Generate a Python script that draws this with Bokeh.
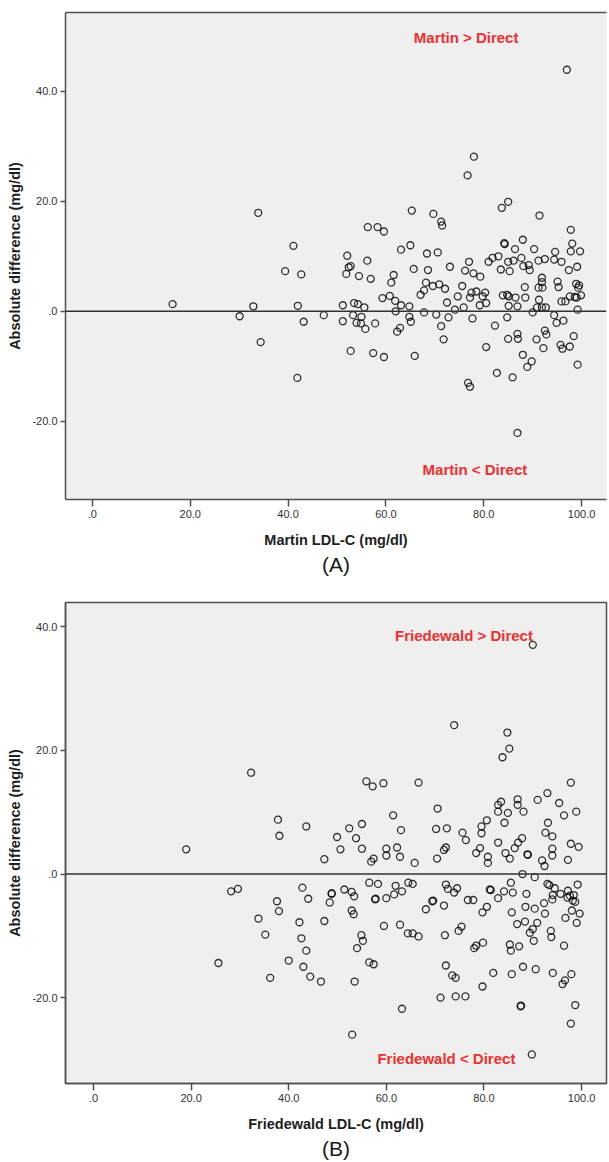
from bokeh.plotting import figure
from bokeh.models import Span, Label, Title, FixedTicker, Range1d, LinearAxis
from bokeh.layouts import column
from bokeh.embed import file_html
from bokeh.resources import INLINE

# ---------------- data ----------------
martin_ldl = [16.4, 30.1, 32.9, 33.9, 34.4, 39.4, 41.1, 42.0, 41.9, 42.7, 43.2, 47.3,
              51.2, 51.2, 52.1, 52.4, 52.8, 51.9, 54.5, 52.8, 53.5, 54.3, 55.6, 53.3,
              55.0, 54.0, 54.9, 55.8, 56.2, 56.9, 56.3, 58.3, 59.6, 57.8, 57.4, 59.6,
              59.3, 60.8, 61.9, 63.1, 62.0, 61.1, 61.6, 63.1, 65.0, 65.3, 65.7, 64.8,
              64.8, 65.1, 62.9, 62.3, 65.9, 76.7, 85.0, 83.7, 69.7, 71.3, 71.5, 91.4,
              97.8, 98.1, 97.8, 99.7, 68.4, 70.6, 68.6, 73.1, 77.0, 76.2, 77.9, 79.3,
              81.0, 81.8, 83.0, 84.2, 84.3, 86.4, 88.0, 90.3, 94.6, 83.5, 85.0, 85.3,
              86.1, 87.7, 88.1, 89.2, 89.4, 91.2, 92.5, 94.4, 95.9, 97.4, 99.1, 91.9,
              91.9, 92.0, 91.2, 95.1, 95.3, 98.9, 99.5, 99.3, 99.9, 99.0, 98.6, 97.6,
              95.9, 96.7, 99.2, 67.1, 67.8, 68.2, 69.6, 70.9, 72.1, 67.8, 70.3, 71.3,
              71.8, 72.8, 72.5, 74.1, 74.7, 75.6, 75.9, 77.2, 77.5, 78.5, 79.2, 79.8,
              80.3, 80.5, 77.7, 82.3, 80.5, 83.9, 84.8, 85.1, 86.5, 88.5, 88.4, 85.1,
              86.9, 84.8, 86.9, 87.0, 85.0, 88.0, 89.8, 88.9, 82.7, 85.9, 76.8, 77.2,
              90.0, 90.9, 91.3, 91.9, 92.7, 94.4, 94.9, 96.3, 90.8, 92.5, 92.8, 92.2,
              95.7, 96.1, 97.6, 98.4, 99.2, 97.0, 78.0, 86.9]
martin_diff = [1.3, -0.9, 0.9, 17.9, -5.6, 7.3, 11.9, 1.0, -12.1, 6.7, -1.9, -0.7,
               1.1, -1.8, 10.1, 8.0, 8.2, 6.8, 6.4, -7.2, 1.5, 1.3, 0.7, -0.7,
               -1.0, -2.1, -2.2, -3.2, 9.2, 5.9, 15.3, 15.3, 14.5, -2.2, -7.6, -8.3,
               2.4, 2.8, 1.9, 1.1, 0.0, 5.2, 6.6, 11.2, 12.0, 18.3, 7.7, 0.9,
               -1.0, -1.9, -3.0, -3.7, -8.1, 24.7, 19.9, 18.8, 17.7, 16.3, 15.6, 17.4,
               14.8, 12.3, 10.9, 10.9, 10.5, 10.7, 7.5, 8.1, 9.0, 7.4, 6.9, 6.3,
               9.0, 9.7, 10.0, 12.4, 12.2, 11.3, 13.0, 11.3, 10.8, 7.6, 9.0, 7.3,
               9.2, 9.7, 8.2, 8.4, 7.5, 9.2, 9.5, 9.4, 9.0, 7.5, 8.1, 6.1,
               5.3, 4.3, 4.3, 5.4, 4.4, 5.0, 4.7, 4.3, 2.9, 2.5, 2.6, 2.7,
               1.8, 1.8, 0.3, 3.0, 3.8, 5.2, 4.6, 4.9, 4.1, -0.2, -0.6, -2.7,
               -5.1, -1.1, 1.6, 0.3, 2.7, 4.6, 0.7, 2.5, 3.4, 3.6, 1.1, 2.7,
               3.4, 1.5, -1.3, -2.6, -6.5, 2.9, 3.0, 2.7, 2.5, 2.5, 4.4, 1.0,
               0.9, -1.1, -4.1, -5.0, -5.0, -7.9, -9.1, -10.1, -11.2, -12.0, -13.0, -13.7,
               -0.2, 0.7, 2.1, 0.7, 0.7, -0.7, -2.1, -1.7, -5.1, -3.5, -4.2, -6.7,
               -6.1, -6.8, -6.4, -4.5, -9.7, 43.9, 28.1, -22.1]

fried_ldl = [32.3, 19.0, 37.8, 38.1, 43.6, 49.9, 50.6, 47.3, 28.2, 29.6, 25.6, 33.8,
             35.2, 37.6, 38.0, 36.2, 40.0, 42.8, 44.0, 42.2, 42.6, 43.6, 43.0, 44.4,
             46.6, 47.3, 48.4, 48.8, 48.8, 52.4, 53.8, 55.0, 55.0, 55.9, 57.2, 59.4,
             66.6, 61.4, 63.0, 60.0, 60.0, 62.2, 62.8, 56.9, 57.4, 65.8, 51.4, 52.9,
             53.4, 52.9, 53.3, 54.9, 55.2, 54.0, 56.5, 57.4, 53.5, 63.2, 53.0, 56.5,
             58.3, 57.7, 57.8, 60.0, 59.5, 61.9, 61.6, 63.2, 64.5, 65.4, 62.8, 64.4,
             65.4, 66.6, 85.2, 83.8, 97.8, 70.5, 70.2, 72.4, 70.4, 71.8, 72.2, 75.6,
             76.3, 79.5, 79.5, 80.6, 78.4, 79.2, 80.8, 80.8, 82.9, 82.9, 83.5, 84.9,
             84.2, 86.9, 86.9, 88.1, 91.0, 93.0, 95.4, 96.4, 98.9, 93.1, 92.6, 94.0,
             82.9, 84.4, 85.3, 86.3, 87.0, 87.8, 88.9, 89.0, 91.9, 92.4, 94.0, 94.0,
             97.2, 97.8, 99.4, 87.9, 90.4, 85.5, 84.1, 85.9, 82.9, 81.2, 81.4, 72.2,
             72.6, 73.9, 74.5, 69.6, 69.4, 68.1, 71.8, 76.7, 77.8, 80.6, 79.7, 88.7,
             88.5, 90.4, 85.7, 86.8, 88.4, 90.9, 90.0, 89.4, 90.2, 93.0, 93.4, 94.5,
             94.1, 94.0, 92.3, 92.5, 95.7, 97.2, 97.6, 97.1, 98.4, 98.2, 99.2, 98.7,
             99.6, 98.0, 96.7, 99.0, 93.7, 93.8, 96.4, 85.3, 85.5, 87.2, 78.0, 78.4,
             79.8, 74.8, 75.4, 72.0, 72.2, 73.5, 74.2, 81.9, 85.7, 88.0, 90.6, 94.1,
             79.7, 71.1, 74.2, 76.2, 87.5, 87.6, 96.1, 96.6, 97.9, 98.7, 97.8, 89.8,
             90.0, 73.9, 84.8]
fried_diff = [16.4, 4.0, 8.8, 6.2, 7.7, 6.0, 4.0, 2.4, -2.8, -2.4, -14.4, -7.2,
              -9.8, -4.4, -6.0, -16.8, -14.0, -2.2, -4.0, -7.8, -10.4, -12.4, -15.0, -16.6,
              -17.4, -7.6, -4.6, -3.1, -3.2, 7.4, 5.8, 8.1, 4.1, 15.0, 14.2, 14.7,
              14.8, 9.5, 7.1, 4.1, 3.0, 4.3, 2.8, 2.0, 2.5, 1.8, -2.5, -2.9,
              -3.6, -5.9, -6.5, -9.9, -10.8, -12.0, -14.3, -14.6, -17.4, -21.8, -26.0, -1.4,
              -1.6, -4.1, -4.0, -3.9, -8.4, -1.9, -3.3, -2.8, -1.4, -1.6, -8.2, -9.6,
              -9.6, -10.1, 20.3, 18.9, 14.8, 10.6, 7.3, 7.4, 2.5, 3.9, 4.3, 6.7,
              5.5, 7.7, 6.6, 8.7, 3.4, 4.2, 2.8, 1.8, 11.2, 10.1, 11.7, 9.9,
              8.3, 12.1, 11.2, 10.1, 12.0, 13.1, 11.5, 9.5, 10.1, 8.3, 6.7, 6.1,
              5.1, 3.4, 2.5, 4.2, 5.1, 5.8, 3.2, 3.1, 2.2, 1.3, 4.1, 3.0,
              2.3, 4.9, 4.4, 0.0, -0.5, -1.4, -2.8, -3.0, -3.9, -2.5, -2.6, -1.7,
              -2.4, -3.0, -2.3, -4.3, -4.4, -5.7, -5.1, -4.2, -4.2, -5.3, -6.2, -3.2,
              -5.3, -5.6, -6.2, -8.1, -7.7, -7.9, -8.9, -9.5, -10.8, -1.6, -1.8, -2.3,
              -3.4, -4.1, -4.7, -6.4, -3.2, -2.7, -3.5, -3.8, -3.4, -4.3, -1.7, -4.5,
              -6.4, -5.9, -7.1, -7.9, -9.2, -10.2, -11.6, -11.4, -12.4, -11.7, -12.0, -11.6,
              -11.1, -9.2, -8.5, -9.9, -14.8, -16.4, -16.8, -16.0, -16.2, -15.0, -15.4, -16.0,
              -18.2, -20.0, -19.8, -19.8, -21.4, -21.3, -17.8, -17.2, -16.2, -21.2, -24.2, -29.2,
              37.1, 24.1, 22.9]

x_ticks = [0, 20, 40, 60, 80, 100]
x_tick_labels = [".0", "20.0", "40.0", "60.0", "80.0", "100.0"]
y_ticks = [-20, 0, 20, 40]
y_tick_labels = ["-20.0", ".0", "20.0", "40.0"]

MAIN_FONT = "Liberation Sans"
FRAME_COLOR = "#505050"
RED = "#f03030"


def make_panel(xs, ys, xr, yr, width, height, borders, xlabel, ylab_standoff,
               top_text, top_pos, bottom_text, bottom_pos, caption, open_right=False):
    p = figure(width=width, height=height, x_range=Range1d(*xr), y_range=Range1d(*yr),
               output_backend="svg", toolbar_location=None, min_border=0,
               min_border_top=borders[0], min_border_right=borders[1],
               min_border_bottom=borders[2], min_border_left=borders[3])
    p.background_fill_color = "#efefef"
    p.border_fill_color = "white"
    p.xgrid.visible = False
    p.ygrid.visible = False

    xax = p.below[0]
    yax = p.left[0]

    if open_right:
        # the frame continues past the right edge of the picture: no right border
        p.outline_line_color = None
        top_axis = LinearAxis(ticker=FixedTicker(ticks=[]), axis_line_color=FRAME_COLOR,
                              axis_line_width=1.5, major_tick_line_color=None,
                              minor_tick_line_color=None, major_label_standoff=0,
                              major_tick_out=0, major_tick_in=0)
        p.add_layout(top_axis, "above")
    else:
        p.outline_line_color = FRAME_COLOR
        p.outline_line_width = 1.5

    xax.ticker = FixedTicker(ticks=x_ticks)
    xax.major_label_overrides = dict(zip(x_ticks, x_tick_labels))
    yax.ticker = FixedTicker(ticks=y_ticks)
    yax.major_label_overrides = dict(zip(y_ticks, y_tick_labels))
    for ax in (xax, yax):
        ax.axis_line_color = FRAME_COLOR
        ax.axis_line_width = 1.5
        ax.major_tick_line_color = FRAME_COLOR
        ax.major_tick_line_width = 1.5
        ax.major_tick_in = 0
        ax.minor_tick_line_color = None
        ax.major_label_text_font = MAIN_FONT
        ax.major_label_text_font_size = "11px"
        ax.major_label_text_color = "#333333"
        ax.axis_label_text_font = MAIN_FONT
        ax.axis_label_text_font_size = "14.5px"
        ax.axis_label_text_font_style = "bold"
        ax.axis_label_text_color = "#1e1e1e"
    xax.major_tick_out = 7
    xax.major_label_standoff = 3
    xax.axis_label = xlabel
    xax.axis_label_standoff = 11
    yax.major_tick_out = 5
    yax.major_label_standoff = 3
    yax.axis_label = "Absolute difference (mg/dl)"
    yax.axis_label_standoff = ylab_standoff

    p.add_layout(Span(location=0, dimension="width", line_color="#333333", line_width=1.5))

    p.scatter(xs, ys, marker="circle", size=7, fill_color=None,
              line_color="black", line_width=1.3, line_alpha=0.8)

    for txt, (tx, ty) in ((top_text, top_pos), (bottom_text, bottom_pos)):
        p.add_layout(Label(x=tx, y=ty, text=txt, text_align="center",
                           text_baseline="middle", text_color=RED,
                           text_font=MAIN_FONT, text_font_size="15px",
                           text_font_style="bold"))

    p.add_layout(Title(text=caption, align="center", text_font=MAIN_FONT,
                       text_font_size="21px", text_font_style="normal",
                       text_color="#1a1a1a", standoff=0), "below")
    return p


# Panel A: page y 0..580, frame x 65..609, y 12..499
pA = make_panel(martin_ldl, martin_diff, (-5.5, 105.1), (-34.2, 54.3),
                609, 580, (12, 0, 81, 65), "Martin LDL-C (mg/dl)", 6,
                "Martin > Direct", (76.4, 49.8), "Martin < Direct", (78.2, -28.7), "(A)",
                open_right=True)
# Panel B: page y 580..1162, frame x 64..606, y 602..1083
pB = make_panel(fried_ldl, fried_diff, (-5.73, 105.1), (-33.9, 43.95),
                609, 582, (22, 3, 79, 64), "Friedewald LDL-C (mg/dl)", 6,
                "Friedewald > Direct", (75.9, 38.6), "Friedewald < Direct", (72.3, -29.9), "(B)")

layout = column(pA, pB)
open("out.html", "w").write(file_html(layout, INLINE))
